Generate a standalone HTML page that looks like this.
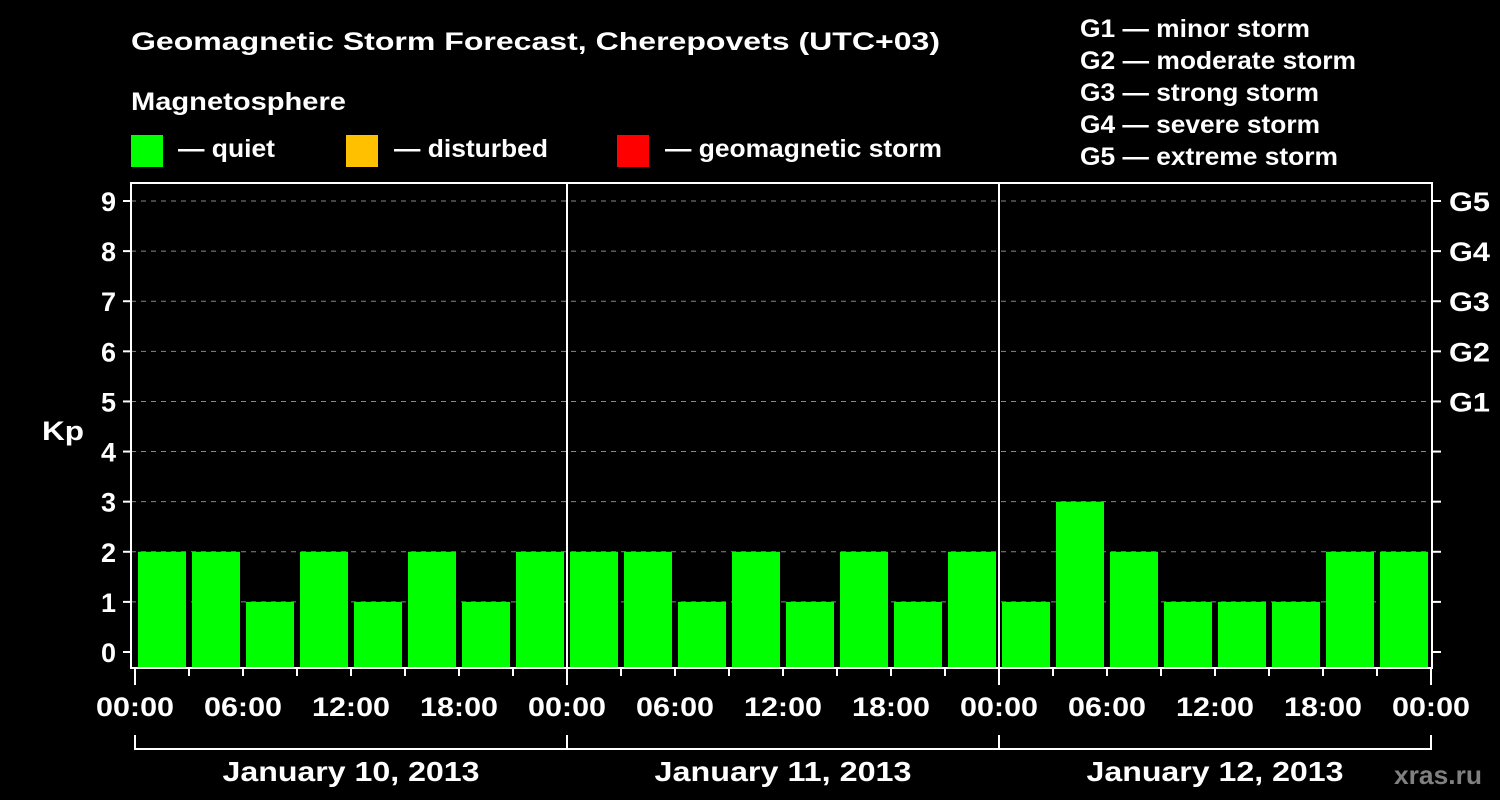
<!DOCTYPE html>
<html><head><meta charset="utf-8"><style>
body{margin:0;background:#000;}
svg{display:block;font-family:"Liberation Sans",Arial,sans-serif;font-weight:bold;}
</style></head><body>
<svg id="c" width="1500" height="800" viewBox="0 0 1500 800">
<rect width="1500" height="800" fill="#000"/>
<text x="131" y="50" fill="#fff" font-size="25" textLength="809" lengthAdjust="spacingAndGlyphs">Geomagnetic Storm Forecast, Cherepovets (UTC+03)</text>
<text x="131" y="110" fill="#fff" font-size="25" textLength="215" lengthAdjust="spacingAndGlyphs">Magnetosphere</text>
<g><rect x="131" y="135" width="32" height="32" fill="#00ff00"/><text x="178" y="157" fill="#fff" font-size="25" textLength="97" lengthAdjust="spacingAndGlyphs">— quiet</text></g>
<g><rect x="346" y="135" width="32" height="32" fill="#ffc000"/><text x="394" y="157" fill="#fff" font-size="25" textLength="154" lengthAdjust="spacingAndGlyphs">— disturbed</text></g>
<g><rect x="617" y="135" width="32" height="32" fill="#ff0000"/><text x="665" y="157" fill="#fff" font-size="25" textLength="277" lengthAdjust="spacingAndGlyphs">— geomagnetic storm</text></g>
<g fill="#fff" font-size="25">
<text x="1080" y="37" textLength="230" lengthAdjust="spacingAndGlyphs">G1 — minor storm</text>
<text x="1080" y="69" textLength="276" lengthAdjust="spacingAndGlyphs">G2 — moderate storm</text>
<text x="1080" y="101" textLength="239" lengthAdjust="spacingAndGlyphs">G3 — strong storm</text>
<text x="1080" y="133" textLength="240" lengthAdjust="spacingAndGlyphs">G4 — severe storm</text>
<text x="1080" y="165" textLength="258" lengthAdjust="spacingAndGlyphs">G5 — extreme storm</text>
</g>
<text x="42" y="440" fill="#fff" font-size="27" textLength="42" lengthAdjust="spacingAndGlyphs">Kp</text>
<text x="1394" y="784" fill="#808080" font-size="26" textLength="88" lengthAdjust="spacingAndGlyphs">xras.ru</text>
<g id="plot"></g>
</svg>
<script>
const kpValues=[2,2,1,2,1,2,1,2, 2,2,1,2,1,2,1,2, 1,3,2,1,1,1,2,2];
const dayLabels=["January 10, 2013","January 11, 2013","January 12, 2013"];
const yTicks=[0,1,2,3,4,5,6,7,8,9];
const gLabels=["G1","G2","G3","G4","G5"];
const timeLabels=["00:00","06:00","12:00","18:00"];
const NS="http://www.w3.org/2000/svg";
const g=document.getElementById('plot');
const L=131,R=1432,T=183,B=668,X0=135,DAY=432;
const y=v=>652-v*50.11;
const x=h=>X0+h*DAY/24;
function mk(t,a){const e=document.createElementNS(NS,t);for(const k in a)e.setAttribute(k,a[k]);g.appendChild(e);return e;}
yTicks.forEach(v=>{
  if(v>0){const gl=mk('line',{x1:L,x2:R,y1:y(v),y2:y(v),stroke:'#888','stroke-dasharray':'5,5','stroke-width':1});
  
  }
  mk('line',{x1:123,x2:L,y1:y(v),y2:y(v),stroke:'#fff','stroke-width':2});
  mk('line',{x1:R,x2:1441,y1:y(v),y2:y(v),stroke:'#fff','stroke-width':2});
  const t=mk('text',{x:116,y:y(v)+10,fill:'#fff','font-size':27,'text-anchor':'end'});t.textContent=v;
  
  
});
gLabels.forEach((s,i)=>{const t=mk('text',{x:1449,y:y(5+i)+10,fill:'#fff','font-size':27,textLength:41,lengthAdjust:'spacingAndGlyphs'});t.textContent=s;
  
  });
kpValues.forEach((v,i)=>{
  const c=v>=5?'#ff0000':(v>=4?'#ffc000':'#00ff00');
  const r=mk('rect',{x:x(i*3)+3,width:DAY/8-6,y:y(v),height:B-y(v),fill:c});
  
  
});
mk('rect',{x:L,y:T,width:R-L,height:B-T,fill:'none',stroke:'#fff','stroke-width':2});
for(let d=1;d<3;d++)mk('line',{x1:x(d*24),x2:x(d*24),y1:T,y2:B,stroke:'#fff','stroke-width':2});
for(let h=0;h<=72;h+=3){
  const major=h%24==0;
  mk('line',{x1:x(h),x2:x(h),y1:B,y2:B+(major?17:8),stroke:'#fff','stroke-width':2});
}
for(let d=0;d<=3;d++){
  for(let k=0;k<(d<3?4:1);k++){
    const t=mk('text',{x:x(d*24+k*6),y:716,fill:'#fff','font-size':27,'text-anchor':'middle',textLength:78,lengthAdjust:'spacingAndGlyphs'});
    t.textContent=timeLabels[k];
    
    
  }
  mk('line',{x1:x(d*24),x2:x(d*24),y1:735,y2:750,stroke:'#fff','stroke-width':2});
}
mk('line',{x1:x(0),x2:x(72),y1:749,y2:749,stroke:'#fff','stroke-width':2});
dayLabels.forEach((s,d)=>{const t=mk('text',{x:x(d*24+12),y:781,fill:'#fff','font-size':28,'text-anchor':'middle',textLength:257,lengthAdjust:'spacingAndGlyphs'});t.textContent=s;
  
  });
</script>
</body></html>
